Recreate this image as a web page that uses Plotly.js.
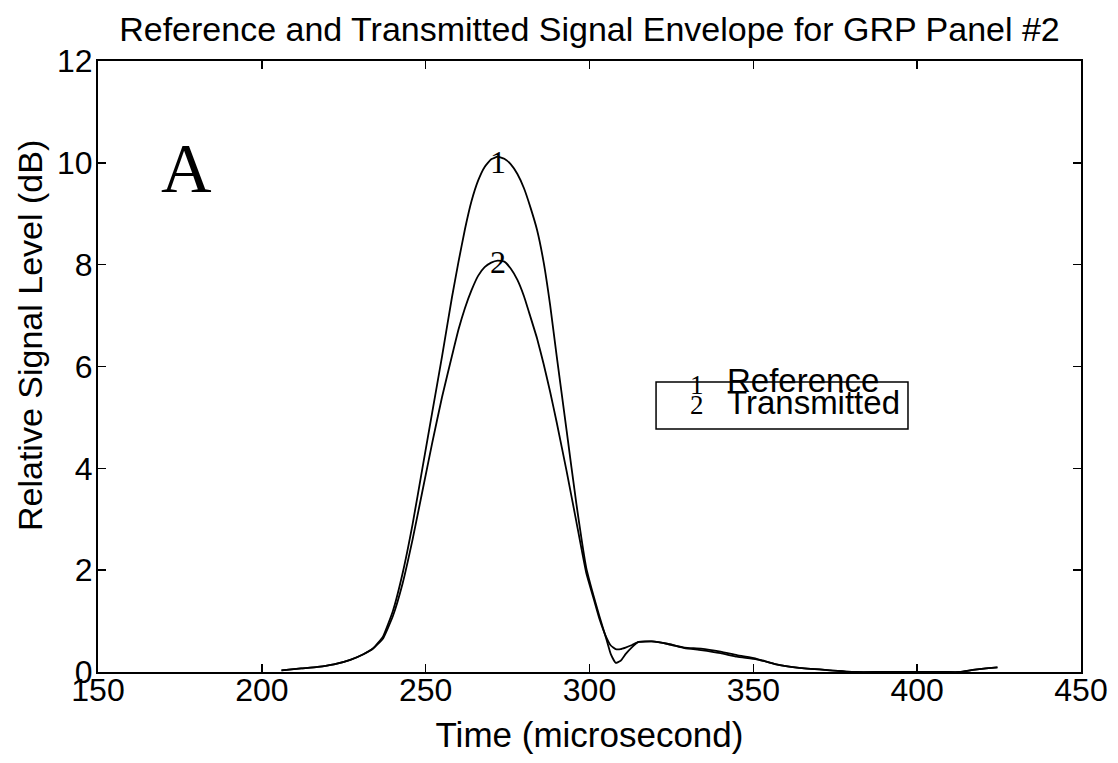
<!DOCTYPE html>
<html>
<head>
<meta charset="utf-8">
<script src="https://cdn.plot.ly/plotly-3.0.1.min.js"></script>
<style>
  html, body { margin: 0; padding: 0; background: #ffffff; }
  #chart { width: 1118px; height: 763px; }
</style>
</head>
<body>
<div id="chart"></div>
<script>
// Sample times (microsecond) shared by both envelopes
const timeUs = [
  206, 212, 217, 222, 227, 231, 234, 237, 240, 243,
  246, 249, 252, 255, 258, 260, 262, 264, 266, 268,
  270, 272, 274, 276, 278, 280, 282, 284, 286, 288,
  290, 293, 296, 299, 301, 303, 305, 306.5, 308, 309.5,
  311, 313, 315, 319, 324, 329, 334, 340, 345, 351,
  357, 364, 372, 381, 390, 400, 408, 413, 417, 421,
  424.5
];

// Reference signal envelope (dB)
const referenceDb = [
  0.03, 0.07, 0.10, 0.15, 0.24, 0.35, 0.47, 0.70, 1.20, 1.95,
  2.90, 4.00, 5.10, 6.20, 7.35, 8.05, 8.70, 9.25, 9.65, 9.92,
  10.07, 10.12, 10.08, 9.97, 9.78, 9.50, 9.12, 8.68, 8.05, 7.20,
  6.20, 4.75, 3.30, 2.05, 1.55, 1.10, 0.68, 0.35, 0.18, 0.22,
  0.35, 0.49, 0.59, 0.60, 0.55, 0.48, 0.46, 0.40, 0.33, 0.26,
  0.15, 0.08, 0.04, 0.00, 0.00, 0.00, 0.00, 0.00, 0.04, 0.07,
  0.09
];

// Transmitted signal envelope (dB)
const transmittedDb = [
  0.03, 0.07, 0.10, 0.15, 0.24, 0.35, 0.46, 0.66, 1.10, 1.75,
  2.60, 3.55, 4.50, 5.40, 6.20, 6.72, 7.15, 7.50, 7.78, 7.95,
  8.04, 8.08, 8.06, 7.92, 7.70, 7.38, 6.97, 6.55, 6.05, 5.50,
  4.90, 3.95, 2.95, 1.95, 1.50, 1.05, 0.70, 0.52, 0.45, 0.45,
  0.48, 0.53, 0.59, 0.60, 0.55, 0.47, 0.43, 0.37, 0.30, 0.25,
  0.15, 0.08, 0.04, 0.00, 0.00, 0.00, 0.00, 0.00, 0.04, 0.07,
  0.09
];

// Curve tags placed on the peaks and repeated in the key
const curveTags = ["1", "2"];
const seriesNames = ["Reference", "Transmitted"];

const sans = "Liberation Sans, Arial, Helvetica, sans-serif";
const serif = "Liberation Serif, Times New Roman, serif";

function peakIndex(arr) {
  let k = 0;
  for (let i = 1; i < arr.length; i++) if (arr[i] > arr[k]) k = i;
  return k;
}

const lineStyle = { color: "#000000", width: 1.8, shape: "spline", smoothing: 0.4 };

const traces = [
  { x: timeUs, y: referenceDb, type: "scatter", mode: "lines", name: seriesNames[0], line: lineStyle, hoverinfo: "skip" },
  { x: timeUs, y: transmittedDb, type: "scatter", mode: "lines", name: seriesNames[1], line: lineStyle, hoverinfo: "skip" }
];

const pRef = peakIndex(referenceDb);
const pTr = peakIndex(transmittedDb);

// plot-area geometry in pixels
const L = 98, R = 37, T = 61, B = 91, W = 1118, H = 763;
const pw = W - L - R, ph = H - T - B;

const annotations = [
  // tags on the curve peaks
  { x: timeUs[pRef], y: referenceDb[pRef], xref: "x", yref: "y", text: curveTags[0], showarrow: false,
    yanchor: "middle", yshift: -5, font: { family: serif, size: 32, color: "#000" } },
  { x: timeUs[pTr], y: transmittedDb[pTr], xref: "x", yref: "y", text: curveTags[1], showarrow: false,
    yanchor: "middle", yshift: -1, font: { family: serif, size: 32, color: "#000" } },
  // panel letter
  { x: 0.0905, y: 0.8233, xref: "paper", yref: "paper", text: "A", showarrow: false,
    xanchor: "center", yanchor: "middle", font: { family: serif, size: 70, color: "#000" } },
  // vertical axis label
  { x: (30 - L) / pw, y: (H - B - 336) / ph, xref: "paper", yref: "paper", text: "Relative Signal Level (dB)",
    showarrow: false, textangle: -90, xanchor: "center", yanchor: "middle",
    font: { family: sans, size: 34, color: "#000" } },
  // key entries
  { x: 0.6094, y: 0.4697, xref: "paper", yref: "paper", text: curveTags[0], showarrow: false,
    xanchor: "center", yanchor: "middle", font: { family: serif, size: 27, color: "#000" } },
  { x: 0.6094, y: 0.4370, xref: "paper", yref: "paper", text: curveTags[1], showarrow: false,
    xanchor: "center", yanchor: "middle", font: { family: serif, size: 27, color: "#000" } },
  { x: 0.6378, y: 0.4763, xref: "paper", yref: "paper", text: seriesNames[0], showarrow: false,
    xanchor: "left", yanchor: "middle", font: { family: sans, size: 33, color: "#000" } },
  { x: 0.6378, y: 0.4403, xref: "paper", yref: "paper", text: seriesNames[1], showarrow: false,
    xanchor: "left", yanchor: "middle", font: { family: sans, size: 33, color: "#000" } }
];

const shapes = [
  { type: "rect", xref: "paper", yref: "paper", x0: 0.5677, x1: 0.8240, y0: 0.3977, y1: 0.4746,
    line: { color: "#000", width: 1.5 }, fillcolor: "rgba(0,0,0,0)" }
];

const axisCommon = {
  showgrid: false, zeroline: false,
  showline: true, linecolor: "#000", linewidth: 2, mirror: "ticks",
  ticks: "inside", ticklen: 8, tickwidth: 1.5, tickcolor: "#000",
  tickfont: { family: sans, size: 32, color: "#000" },
  automargin: false
};

const layout = {
  width: W, height: H,
  margin: { l: L, r: R, t: T, b: B },
  paper_bgcolor: "#ffffff", plot_bgcolor: "#ffffff",
  showlegend: false,
  title: {
    text: "Reference and Transmitted Signal Envelope for GRP Panel #2",
    font: { family: sans, size: 34, color: "#000" },
    x: 0.5, xref: "paper", xanchor: "center",
    y: 0.962, yref: "container", yanchor: "middle"
  },
  xaxis: Object.assign({}, axisCommon, {
    range: [150, 450], tick0: 150, dtick: 50,
    ticklabelstandoff: -11,
    title: { text: "Time (microsecond)", font: { family: sans, size: 35, color: "#000" }, standoff: 15 }
  }),
  yaxis: Object.assign({}, axisCommon, {
    range: [0, 12], tick0: 0, dtick: 2,
    ticklabelstandoff: -3
  }),
  annotations: annotations,
  shapes: shapes
};

Plotly.newPlot("chart", traces, layout, { staticPlot: true, displayModeBar: false });
</script>
</body>
</html>
